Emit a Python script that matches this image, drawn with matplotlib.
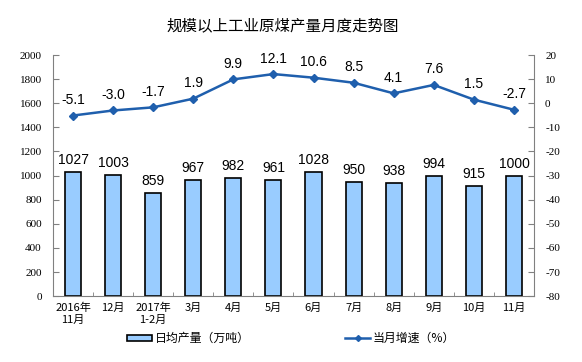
import matplotlib
matplotlib.use("Agg")
import matplotlib.pyplot as plt
from matplotlib.patches import Patch
from matplotlib.lines import Line2D

categories = ["2016年\n11月", "12月", "2017年\n1-2月", "3月", "4月", "5月", "6月", "7月", "8月", "9月", "10月", "11月"]
output = [1027, 1003, 859, 967, 982, 961, 1028, 950, 938, 994, 915, 1000]
growth = [-5.1, -3.0, -1.7, 1.9, 9.9, 12.1, 10.6, 8.5, 4.1, 7.6, 1.5, -2.7]
left_ticks = list(range(0, 2001, 200))
right_ticks = list(range(-80, 21, 10))

plt.rcParams['font.family'] = ['Noto Sans CJK SC', 'DejaVu Sans']
serif = ['Liberation Serif', 'Noto Sans CJK SC']
sans = ['Liberation Sans', 'DejaVu Sans']

fig = plt.figure(figsize=(5.82, 3.62), dpi=100)
ax = fig.add_axes([0.091, 0.182, 0.8265, 0.666])
x = list(range(len(categories)))
bar_color = '#99CCFF'
line_color = '#1F5FAD'

ax.bar(x, output, width=0.4, color=bar_color, edgecolor='black', linewidth=1.2, zorder=2)
for xi, v in zip(x, output):
    ax.text(xi, v + 40, str(v), ha='center', va='bottom', fontsize=10, family=sans)

ax.set_xlim(-0.5, len(categories) - 0.5)
ax.set_ylim(0, 2000)
ax.set_yticks(left_ticks)
ax.set_yticklabels([str(t) for t in left_ticks], family=serif, fontsize=8)
ax.set_xticks(x)
ax.set_xticklabels(categories, fontsize=8, family=['Noto Sans CJK SC'])
ax.set_xticks([i + 0.5 for i in x[:-1]], minor=True)
ax.tick_params(axis='x', which='major', length=0, pad=5)
ax.tick_params(axis='x', which='minor', length=3, direction='in', color='#808080')
ax.tick_params(axis='y', direction='in', length=4, color='#808080', pad=8)
for s in ['top', 'right']:
    ax.spines[s].set_visible(False)
ax.spines['left'].set_color('#808080')
ax.spines['bottom'].set_color('#808080')

ax2 = ax.twinx()
ax2.plot(x, growth, color=line_color, marker='D', markersize=4, linewidth=1.8, zorder=3)
for xi, v in zip(x, growth):
    ax2.text(xi, v + 3.5, f"{v:.1f}", ha='center', va='bottom', fontsize=10, family=sans)
ax2.set_ylim(-80, 20)
ax2.set_yticks(right_ticks)
ax2.set_yticklabels([str(t) for t in right_ticks], family=serif, fontsize=8)
ax2.tick_params(axis='y', direction='in', length=4, color='#808080', pad=8)
for s in ['top', 'left', 'bottom']:
    ax2.spines[s].set_visible(False)
ax2.spines['right'].set_color('#808080')

fig.text(0.485, 0.93, "规模以上工业原煤产量月度走势图", ha='center', va='center', fontsize=11.2)

handles = [Patch(facecolor=bar_color, edgecolor='black', linewidth=1.2),
           Line2D([0], [0], color=line_color, marker='D', markersize=3, linewidth=1.8)]
fig.legend(handles, ["日均产量（万吨）", "当月增速（%）"], loc='center', bbox_to_anchor=(0.5, 0.065),
           ncol=2, frameon=False, fontsize=8.6, columnspacing=8, handlelength=2.1, handleheight=0.45,
           handletextpad=0.2)

fig.savefig("out.png", dpi=100)
